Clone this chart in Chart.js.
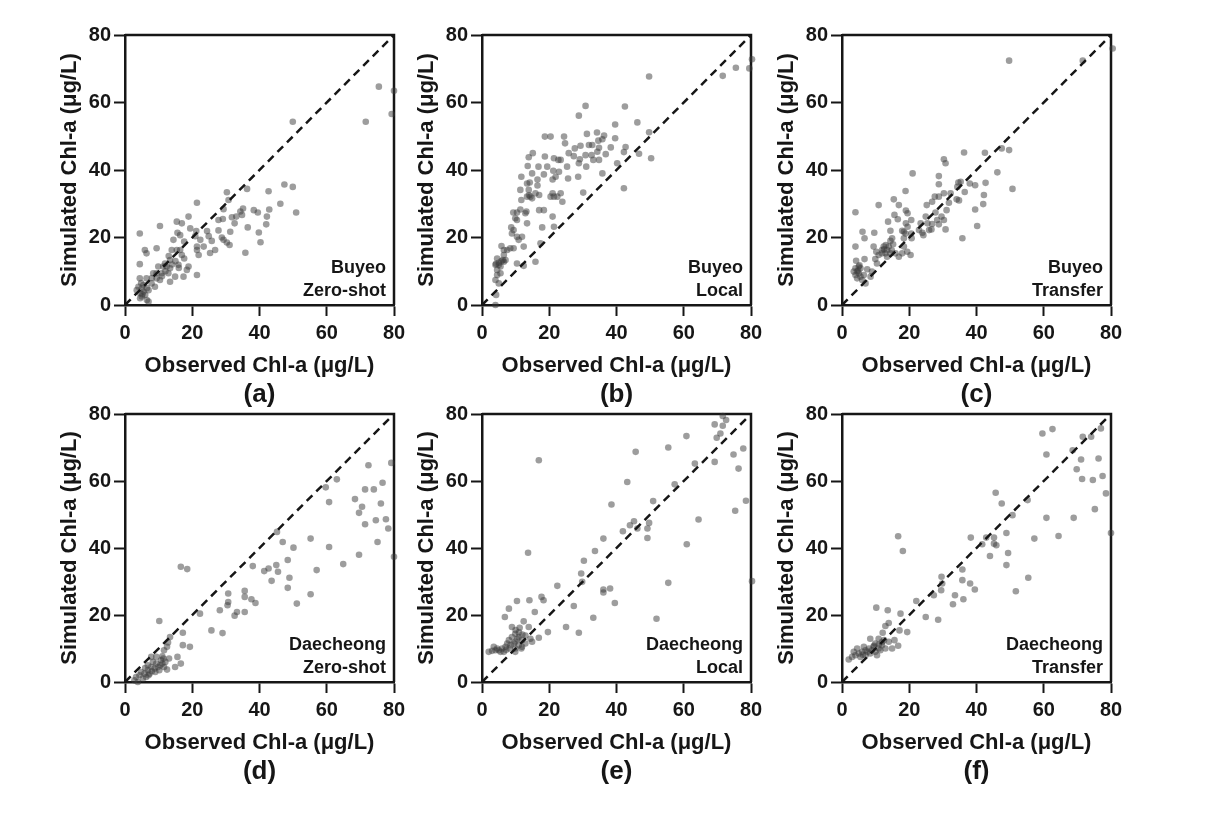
<!DOCTYPE html>
<html>
<head>
<meta charset="utf-8">
<script src="https://cdn.jsdelivr.net/npm/chart.js@4.4.1/dist/chart.umd.min.js"></script>
<style>
  html, body { margin: 0; padding: 0; background: #fff; }
  #wrap { position: relative; width: 1208px; height: 822px; overflow: hidden; }
  #wrap canvas { position: absolute; }
</style>
</head>
<body>
<div id="wrap"></div>
<script>
// axis ticks and texts
const axisTicks = [0, 20, 40, 60, 80];
const xTitle = "Observed Chl-a (μg/L)";
const yTitle = "Simulated Chl-a (μg/L)";
const panelLabels = ["(a)", "(b)", "(c)", "(d)", "(e)", "(f)"];
const siteNames = ["Buyeo", "Buyeo", "Buyeo", "Daecheong", "Daecheong", "Daecheong"];
const modeNames = ["Zero-shot", "Local", "Transfer", "Zero-shot", "Local", "Transfer"];

// [observed, simulated] pairs
const buyeoZeroShot = [[75.5,64.7],[80,63.5],[79.3,56.6],[71.6,54.3],[49.9,54.3],[47.4,35.7],[49.9,35],[50.9,27.4],[46.2,30],[42.7,33.7],[42.9,28.3],[42.2,26.2],[42,23.9],[39.5,27.4],[38.3,28.1],[40.3,18.6],[39.8,21.5],[36.3,34.4],[35.1,28.6],[34.3,27.7],[34.8,26.7],[33.1,26.2],[32.6,24.2],[36.5,23],[35.8,15.5],[31.8,26],[30.3,33.4],[29.3,28.4],[29.1,25.5],[27.8,25.2],[27.8,22.1],[30.8,31.1],[28.8,20],[29.3,19.3],[30.3,18.5],[31.1,17.8],[31.3,21.7],[26.8,16.3],[25.8,19],[24.4,21.9],[24.9,20.4],[23.4,17.3],[22.4,19.3],[21.4,16.3],[21.4,30.3],[21.2,21.9],[20.9,20.4],[21.4,17.3],[21.9,14.8],[21.4,8.9],[18.9,26.2],[18.9,11.4],[18.4,10.4],[16.9,24.2],[15.4,24.7],[15.6,21.4],[16.4,20.7],[16.4,16.3],[16.9,14.8],[17.6,13.8],[15.9,11.9],[14.4,19.3],[13.9,16.3],[13.4,13.3],[13.4,10.9],[13.4,6.9],[12.9,9.4],[12.4,11.4],[11.9,12.3],[11.4,11.4],[10.9,9.4],[10.4,23.4],[9.4,16.8],[9.9,11.4],[9.4,7.9],[9.4,9.4],[8.4,9.4],[7.9,6.4],[6.4,15.3],[5.9,16.3],[6.4,7.9],[4.4,21.2],[4.4,12.1],[4.4,7.9],[4,5.4],[5,4.9],[5.5,4],[4.5,3.5],[6,3],[5,2.5],[6.5,1.5],[4.5,2],[7,1],[5.5,5.9],[7,4.4],[3.5,4.4],[8.9,5.4],[10.4,7.4],[14.9,8.4],[17.4,8.4],[25.3,15.4],[19.4,22.7],[17.6,18.8],[15.4,16.3],[12,10],[14,12],[11,8.5],[15,13],[16,11],[13,14.5],[6.5,5],[5.2,3.2],[4.8,6.5],[8,8]];
const buyeoLocal = [[80.3,72.8],[79.5,70.1],[75.5,70.3],[71.6,67.9],[49.7,67.7],[42.5,58.8],[30.8,59],[28.8,56.1],[46.2,54.1],[39.6,53.5],[49.7,51.2],[34.2,51.1],[31.2,50.7],[42.7,46.8],[42.2,45.3],[46.7,44.8],[50.3,43.5],[40.2,42],[42.2,34.6],[39.6,49.4],[38.3,46.7],[36.3,50.2],[35.8,49.1],[34.6,48.7],[34.8,46.6],[36.8,44.7],[34.3,45.4],[34.8,43],[35.8,39],[32.8,47.4],[31.8,47.4],[32.6,44.4],[33.1,43],[30.8,44.4],[31,41],[29.3,47.2],[29.1,43.2],[28.8,42],[28.6,38],[27.6,46.4],[27.3,44.1],[25.8,45],[25.3,41],[25.6,37.5],[24.4,49.9],[24.7,47.9],[30.1,33.3],[23.9,30.6],[23.4,43],[22.7,43],[22.9,39.5],[21.9,38],[21.4,43.5],[21.2,39.8],[21,37.2],[21,33.1],[21.4,32.1],[23.4,33.1],[22.4,32.1],[20.4,49.9],[18.7,49.9],[18.7,44],[19.4,41],[18.4,38.7],[20.4,32.1],[21,26.2],[21.4,23.2],[18.4,28.1],[17.9,23],[17.4,18.3],[17,28.1],[16.5,37.2],[16.8,41],[16.5,35.4],[17,32.6],[15.1,45],[13.9,43.8],[13.6,41.2],[14.9,39],[14.2,36.3],[13.4,36],[13.9,34.1],[14.4,32.1],[13.4,32.1],[14.9,31.6],[15.9,33.1],[11.7,38],[11.4,34.1],[11.7,31.1],[11.4,28.3],[12.9,27.2],[13.4,24.2],[13.2,27.7],[10.4,27.4],[9.3,27.4],[9.9,25.7],[8.7,23],[9.4,22.2],[8.9,21.2],[10.4,20.2],[11.9,20.2],[10.9,19.3],[12.4,17.3],[10.4,12.3],[12.4,11.6],[15.9,12.8],[9.4,16.8],[8.4,16.8],[7.5,16.3],[6.5,16.3],[5.8,17.5],[6.2,13.3],[6.5,14.8],[5.5,11.4],[4.5,13.8],[4,11.9],[5,11.9],[6.5,12.8],[4.5,8.9],[4,7.4],[5,6.4],[4.2,3],[4,0],[4.5,10.4],[5.5,9.4],[7,13.3],[10.4,25.2],[5,12.5],[4.2,12.2],[5.8,13],[14,32.5]];
const buyeoTransfer = [[80.5,76],[71.6,72.4],[49.7,72.4],[49.7,45.9],[47.5,46.4],[42.5,45.1],[36.3,45.2],[46.2,39.3],[42.7,36.2],[42.2,32.6],[42,29.9],[50.7,34.4],[39.6,35.5],[38,36],[34.6,36.3],[35.3,36.5],[34.3,35],[36.5,33.5],[34.8,31],[34.1,31.3],[32.3,33.1],[31.8,30.3],[31.1,28.1],[30.3,43.2],[30.8,42],[28.8,38.2],[28.8,35.8],[30.3,33.1],[28.8,32.1],[27.6,32.1],[26.8,30.6],[29.6,26.2],[30.3,25.2],[30.8,22.4],[28.3,25.2],[28.8,23.9],[27.8,27.4],[26.8,24],[35.8,19.8],[39.6,28.3],[40.2,23.4],[25.2,29.6],[24.9,26.2],[25.4,24.2],[25.9,22.2],[26.6,22.4],[23.4,24.2],[22.9,22.2],[23.9,21.4],[24.2,20.7],[21,39],[19,28],[19.5,27.2],[20.6,25.2],[19,24.2],[19.5,23.2],[18.4,21.7],[20.6,21.2],[20.7,19.8],[20.4,14.8],[18.9,33.8],[18.9,21.2],[16.9,29.6],[15.4,31.3],[15.6,26.7],[16.6,25.4],[17.9,22],[18.4,19.8],[18.4,17.3],[19.4,15.8],[17.9,15.3],[16.9,14.3],[15.9,15.3],[13.7,24.7],[14.4,22],[14.9,19.8],[14.4,19],[13.9,17.3],[13.4,16.3],[12.4,17.3],[11.9,16.3],[11.9,15.3],[12.9,15.3],[13.4,14.3],[14.4,15.3],[10.9,29.6],[9.6,21.4],[9.4,17.3],[10.2,15.8],[10.9,14.8],[9.9,13.6],[10.4,12.3],[6.7,19.8],[6.1,21.7],[4,27.5],[4,17.3],[6.7,13.6],[4.2,13.1],[7.5,10.6],[4,10.9],[4.5,9.9],[5,9.4],[4,8.9],[5.5,8.4],[4.5,7.9],[6,7.4],[6.5,8.9],[3.5,9.9],[5.5,10.9],[7,6.4],[5,11.4],[8.9,9.9],[8.5,8.4],[12.5,16.5],[13,17.8],[14.8,16.2],[15.2,18],[4.8,10.2],[5.2,11.8]];
const daecheongZeroShot = [[79.2,65.4],[72.4,64.7],[63,60.5],[59.7,58.1],[60.7,53.7],[71.4,57.5],[74,57.5],[76.6,59.5],[68.4,54.6],[70.5,52.3],[69.6,50.5],[76.1,53.3],[77.6,48.6],[74.6,48.3],[71.4,47.1],[78.3,45.8],[75.1,41.8],[80,37.4],[69.6,38],[64.9,35.2],[60.7,40.3],[55.2,42.8],[57,33.4],[55.2,26.2],[45.2,44.8],[46.9,41.8],[50.1,40.1],[48.4,36.4],[48.9,31.1],[48.4,28.1],[51.1,23.4],[45,34.9],[45.5,32.9],[42.7,33.9],[41.4,33.1],[43.6,30.2],[38,34.6],[35.6,27.2],[35.6,25.4],[37.6,24.7],[38.8,23.6],[35.6,20.9],[33.3,20.9],[32.6,19.8],[30.7,26.4],[30.7,23.9],[30.5,22.9],[28.2,21.4],[25.7,15.4],[29,14.6],[22.3,20.4],[16.6,34.4],[18.5,33.7],[17.2,14.7],[17.2,11],[19.3,10.5],[16.6,5.5],[15.6,7.5],[14.9,4.5],[13.4,13.4],[12.8,11.8],[12.5,10.5],[11.6,9.5],[13.1,7],[12.5,3.7],[10.2,18.2],[11.4,7],[11.1,7.7],[10.7,6.5],[11.1,5.5],[9.3,5.5],[9.8,4.5],[8.3,6],[7.8,4.5],[8.8,4],[10.2,3.5],[6.8,3.5],[5.8,2.5],[4.8,3],[4.3,2],[3.3,1.5],[2.8,0.5],[6.3,1.5],[7.3,2.5],[5.3,1],[3.8,0],[9.3,7.5],[6.8,5],[11.6,4.5],[7.8,7.5],[9,3],[10.5,5],[8,3.2],[12,6],[6,4.2],[7,2]];
const daecheongLocal = [[71.6,79.4],[72.6,78.2],[69.2,76.9],[71.6,76.5],[70.9,74.2],[69.8,72.9],[60.8,73.4],[55.4,70],[45.7,68.7],[16.9,66.2],[77.7,69.7],[74.8,67.9],[69.2,65.7],[63.3,65.2],[76.3,63.7],[57.3,59],[43.2,59.7],[78.5,54.1],[75.3,51.1],[64.4,48.5],[50.9,54],[38.5,53],[49.7,47.5],[49.2,45.8],[49.2,43],[45.2,48],[44,46.8],[46.2,45.8],[41.9,45],[60.9,41.1],[36.1,42.8],[33.6,39.1],[30.3,36.2],[29.5,32.4],[29.8,29.9],[36.1,27.6],[38.1,27.9],[36.1,26.7],[39.5,23.6],[55.4,29.6],[80.3,30.1],[51.9,18.9],[33.1,19.2],[27.3,22.7],[22.4,28.7],[25,16.4],[28.8,14.7],[19.6,14.9],[13.7,38.6],[17.7,25.4],[18.3,24.4],[14.1,24.4],[10.4,24.2],[8,21.9],[6.8,19.4],[15.7,20.9],[12.4,18.1],[16.9,13.2],[13.9,16.4],[11.2,16.2],[8.9,16.4],[9.9,14.4],[10.9,13.4],[11.9,12.5],[8.9,13.4],[8,12.5],[9.9,12],[8.5,11],[7,10.5],[6,10],[5,9.5],[4,9.5],[3,9.3],[2,9],[5.5,9],[9.9,10],[11.9,10.5],[12.9,11.5],[14.4,12.9],[9.9,9],[10.9,11],[7.5,11.5],[6.5,9],[3.5,10.5],[14.9,12],[12.9,13.9],[11.7,10],[10.5,12.8],[9.5,11.5],[8.2,10],[11,14.8],[12,14.2],[7.2,9.6],[4.5,10],[10,15.5]];
const daecheongTransfer = [[62.6,75.5],[59.6,74.2],[77,75.7],[71.6,73.2],[74.1,73.2],[68.6,69.2],[60.8,67.9],[76.3,66.7],[71.1,66.4],[69.8,63.5],[77.5,61.5],[71.4,60.6],[74.6,60.3],[78.5,56.3],[45.7,56.5],[47.5,53.3],[55.2,54.3],[50.7,49.8],[60.8,49],[68.9,49],[75.2,51.6],[80,44.5],[64.4,43.6],[57.2,42.8],[48.9,44.5],[45.2,43.1],[42.9,43.1],[41.7,41.1],[45.2,41.3],[45.9,40.8],[38.3,43.1],[44,37.6],[49.4,38.5],[48.9,34.9],[55.4,31.1],[51.7,27.1],[35.8,33.6],[35.8,30.4],[38.1,29.4],[39.5,27.6],[36.1,24.7],[33.6,25.9],[33,23.2],[29.6,31.4],[29.8,29.4],[29.5,27.4],[27.3,25.9],[28.6,18.6],[24.9,19.4],[22.1,24.2],[16.7,43.5],[18.1,39.1],[17.4,20.4],[17.1,15.4],[19.4,14.9],[16.7,10.8],[15.6,12.5],[14.9,10],[13.6,21.4],[13.9,17.6],[12.9,16.7],[12.1,14.7],[10.2,22.2],[13.9,12],[12.9,10],[10.9,12.9],[9.9,11.5],[8.4,12.9],[9.4,10.5],[10.9,10],[11.9,11],[8,10],[7,9.5],[6,9],[5,8.5],[4,8],[3,7.5],[2,6.7],[5.5,7.5],[7,8],[8.4,8.5],[9.9,9],[8.9,9.5],[4.5,10],[6.5,10.5],[3.5,9],[10.4,8],[11.4,9.5],[11.9,11.9],[12.5,12.5],[11,11.2],[9.5,10.8],[7.6,9],[6.2,8.1]];

const panelData = [buyeoZeroShot, buyeoLocal, buyeoTransfer, daecheongZeroShot, daecheongLocal, daecheongTransfer];

// page layout (plot-area boxes)
const colLeft = [125, 482, 842];
const rowTop = [35, 414];
const plotW = 269;
const plotH = [270, 268];
const padL = 85, padT = 15, padR = 25;
const xAxisH = 95, padBottom = 15;

const ink = "#161616";
const fontFamily = "'Liberation Sans', Arial, Helvetica, sans-serif";

// draws the top/right frame and the text labels of each panel
const panelDecor = {
  id: "panelDecor",
  beforeDatasetsDraw(chart) {
    const { ctx, chartArea: a } = chart;
    ctx.save();
    ctx.strokeStyle = ink;
    ctx.lineWidth = 2.5;
    ctx.beginPath();
    ctx.moveTo(a.left, a.top);
    ctx.lineTo(a.right, a.top);
    ctx.lineTo(a.right, a.bottom);
    ctx.stroke();
    ctx.restore();
  },
  afterDraw(chart, args, opts) {
    const { ctx, chartArea: a } = chart;
    ctx.save();
    ctx.fillStyle = ink;
    ctx.textAlign = "right";
    ctx.textBaseline = "middle";
    ctx.font = "bold 18px " + fontFamily;
    ctx.fillText(opts.site, a.right - 8, a.bottom - 37);
    ctx.fillText(opts.mode, a.right - 8, a.bottom - 14);
    ctx.textAlign = "center";
    ctx.font = "bold 26px " + fontFamily;
    ctx.fillText(opts.label, (a.left + a.right) / 2, a.bottom + 90);
    ctx.restore();
  }
};

const wrap = document.getElementById("wrap");

panelData.forEach((points, i) => {
  const col = i % 3, row = Math.floor(i / 3);
  const canvas = document.createElement("canvas");
  const w = padL + plotW + padR;
  const h = padT + plotH[row] + xAxisH + padBottom;
  canvas.width = w;
  canvas.height = h;
  canvas.style.width = w + "px";
  canvas.style.height = h + "px";
  canvas.style.left = (colLeft[col] - padL) + "px";
  canvas.style.top = (rowTop[row] - padT) + "px";
  wrap.appendChild(canvas);

  const tickFont = { family: fontFamily, size: 20, weight: "bold" };
  const titleFont = { family: fontFamily, size: 22, weight: "bold" };
  const lo = axisTicks[0], hi = axisTicks[axisTicks.length - 1];

  new Chart(canvas.getContext("2d"), {
    type: "scatter",
    data: {
      datasets: [
        {
          type: "line",
          data: [{ x: lo, y: lo }, { x: hi, y: hi }],
          borderColor: ink,
          borderWidth: 2.5,
          borderDash: [8, 5.5],
          pointRadius: 0,
          fill: false,
          clip: false,
          order: 0,
        },
        {
          data: points.map((p) => ({ x: p[0], y: p[1] })),
          backgroundColor: "rgba(60, 60, 60, 0.5)",
          borderWidth: 0,
          pointRadius: 3.3,
          clip: false,
          order: 1,
        },
      ],
    },
    options: {
      responsive: false,
      animation: false,
      events: [],
      layout: { padding: { top: padT, right: padR, left: 0, bottom: padBottom } },
      scales: {
        x: {
          type: "linear",
          min: lo,
          max: hi,
          afterBuildTicks: (s) => { s.ticks = axisTicks.map((v) => ({ value: v })); },
          afterFit: (s) => { s.height = xAxisH; },
          ticks: { font: tickFont, color: ink, padding: 5 },
          grid: { drawOnChartArea: false, drawTicks: true, tickLength: 11, tickWidth: 2, tickColor: ink },
          border: { display: true, width: 2.5, color: ink },
          title: { display: true, text: xTitle, font: titleFont, color: ink, padding: { top: 0, bottom: 21 } },
        },
        y: {
          type: "linear",
          min: lo,
          max: hi,
          afterBuildTicks: (s) => { s.ticks = axisTicks.map((v) => ({ value: v })); },
          afterFit: (s) => { s.width = padL; },
          ticks: { font: tickFont, color: ink, padding: 3 },
          grid: { drawOnChartArea: false, drawTicks: true, tickLength: 11, tickWidth: 2, tickColor: ink },
          border: { display: true, width: 2.5, color: ink },
          title: { display: true, text: yTitle, font: titleFont, color: ink, padding: { top: 17, bottom: 0 } },
        },
      },
      plugins: {
        legend: { display: false },
        tooltip: { enabled: false },
        panelDecor: { site: siteNames[i], mode: modeNames[i], label: panelLabels[i] },
      },
    },
    plugins: [panelDecor],
  });
});
</script>
</body>
</html>
